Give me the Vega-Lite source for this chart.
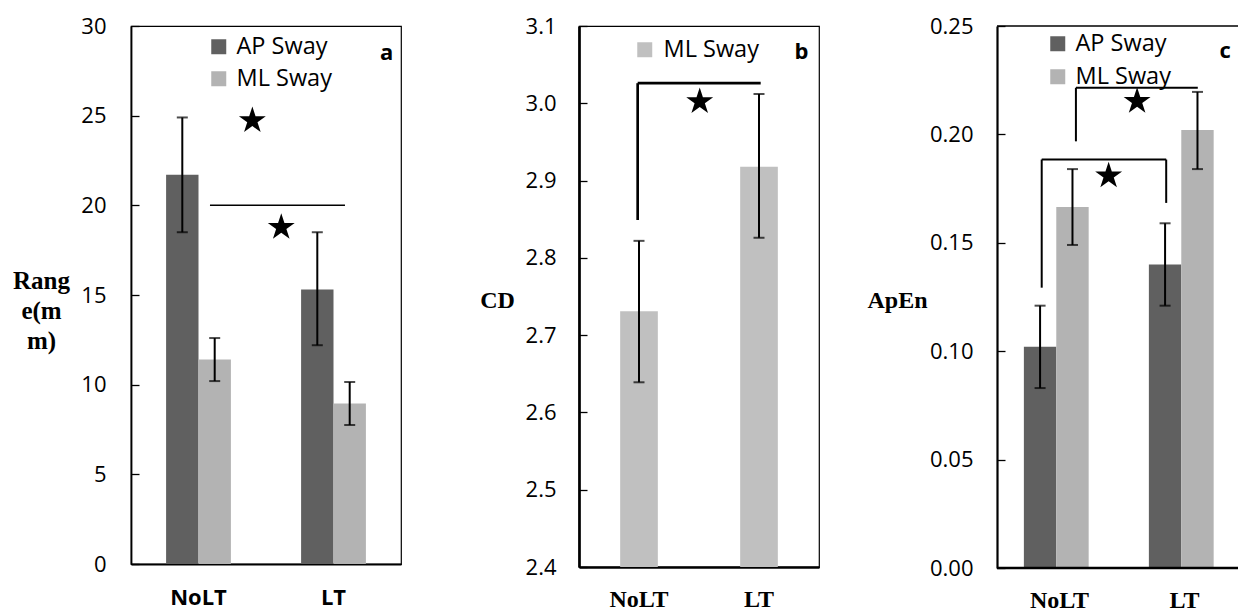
{
  "$schema": "https://vega.github.io/schema/vega-lite/v6.json",
  "padding": {"left": 11, "top": 14, "right": 0, "bottom": 0},
  "autosize": {"type": "pad"},
  "background": "white",
  "spacing": 178,
  "bounds": "flush",
  "config": {
    "view": {"stroke": "black", "strokeWidth": 1.2},
    "axis": {"grid": false, "domainColor": "black", "tickColor": "black", "labelColor": "black", "titleColor": "black"},
    "legend": {"labelColor": "black"},
    "font": "Open Sans"
  },
  "resolve": {"scale": {"color": "independent", "x": "independent", "y": "independent"}, "legend": {"color": "independent"}},
  "hconcat": [
    {
      "width": 270,
      "height": 538,
      "resolve": {"scale": {"x": "independent"}},
      "layer": [
        {
          "data": {"values": [
            {"cond": "NoLT", "series": "AP Sway", "mean": 21.7, "lo": 18.5, "hi": 24.9},
            {"cond": "NoLT", "series": "ML Sway", "mean": 11.4, "lo": 10.2, "hi": 12.6},
            {"cond": "LT", "series": "AP Sway", "mean": 15.3, "lo": 12.2, "hi": 18.5},
            {"cond": "LT", "series": "ML Sway", "mean": 8.95, "lo": 7.75, "hi": 10.15}
          ]},
          "encoding": {
            "x": {"field": "cond", "type": "nominal", "sort": ["NoLT", "LT"],
              "scale": {"paddingInner": 0.52, "paddingOuter": 0.26},
              "axis": {"title": null, "labelAngle": 0, "labelFont": "Open Sans", "labelFontWeight": "bold", "labelFontSize": 22, "ticks": false, "tickSize": 0, "labelPadding": 40, "labelBaseline": "alphabetic", "domainWidth": 1.8}},
            "xOffset": {"field": "series", "type": "nominal", "sort": ["AP Sway", "ML Sway"], "scale": {"paddingInner": 0, "paddingOuter": 0}}
          },
          "layer": [
            {
              "mark": {"type": "bar"},
              "encoding": {
                "y": {"field": "mean", "type": "quantitative", "scale": {"domain": [0, 30], "zero": true, "nice": false},
                  "axis": {"values": [0, 5, 10, 15, 20, 25, 30], "title": ["Rang", "e(m", "m)"], "titleAngle": 0, "titleAlign": "center", "titleBaseline": "middle", "titleX": -90, "titleY": 254, "titleFont": "Liberation Serif", "titleFontWeight": "bold", "titleFontSize": 25, "titleLineHeight": 30, "labelFont": "Open Sans", "labelFontSize": 22, "labelPadding": 33, "tickSize": -8, "tickWidth": 1.3, "domainWidth": 1.8}},
                "color": {"field": "series", "type": "nominal", "scale": {"domain": ["AP Sway", "ML Sway"], "range": ["#606060", "#b3b3b3"]},
                  "legend": {"orient": "none", "legendX": 76, "legendY": 9, "title": null, "direction": "vertical", "symbolType": "square", "symbolSize": 225, "symbolStrokeWidth": 0, "labelFont": "Open Sans", "labelFontSize": 23.5, "labelOffset": 6, "rowPadding": 7, "padding": 0}}
              }
            },
            {
              "mark": {"type": "rule", "color": "black", "strokeWidth": 2},
              "encoding": {"y": {"field": "lo", "type": "quantitative"}, "y2": {"field": "hi"}}
            },
            {
              "mark": {"type": "tick", "color": "black", "thickness": 2, "size": 11, "orient": "horizontal"},
              "encoding": {"y": {"field": "lo", "type": "quantitative"}}
            },
            {
              "mark": {"type": "tick", "color": "black", "thickness": 2, "size": 11, "orient": "horizontal"},
              "encoding": {"y": {"field": "hi", "type": "quantitative"}}
            }
          ]
        },
        {
          "layer": [
            {
              "data": {"values": [{"x1": 0.585, "x2": 1.585, "y1": 20, "y2": 20}]},
              "mark": {"type": "rule", "color": "black", "strokeWidth": 1.5},
              "encoding": {
                "x": {"field": "x1", "type": "quantitative", "scale": {"domain": [0, 2], "nice": false, "zero": false}, "axis": null},
                "x2": {"field": "x2"},
                "y": {"field": "y1", "type": "quantitative"},
                "y2": {"field": "y2"}
              }
            },
            {
              "data": {"values": [{"x": 0.899, "y": 24.8}, {"x": 1.113, "y": 18.85}]},
              "mark": {"type": "point", "shape": "M0,-0.905L0.2245,-0.214L0.951,-0.214L0.363,0.213L0.588,0.904L0,0.477L-0.588,0.904L-0.363,0.213L-0.951,-0.214L-0.2245,-0.214Z", "size": 800, "filled": true, "color": "black", "opacity": 1},
              "encoding": {
                "x": {"field": "x", "type": "quantitative"},
                "y": {"field": "y", "type": "quantitative"}
              }
            },
            {
              "data": {"values": [{"x": 1.893, "y": 28.5, "t": "a"}]},
              "mark": {"type": "text", "font": "Open Sans", "fontWeight": "bold", "fontSize": 22, "align": "center", "baseline": "middle", "color": "black"},
              "encoding": {
                "x": {"field": "x", "type": "quantitative"},
                "y": {"field": "y", "type": "quantitative"},
                "text": {"field": "t"}
              }
            }
          ]
        }
      ]
    },
    {
      "width": 240,
      "height": 541,
      "resolve": {"scale": {"x": "independent"}},
      "layer": [
        {
          "data": {"values": [
            {"cond": "NoLT", "series": "ML Sway", "mean": 2.731, "lo": 2.639, "hi": 2.822},
            {"cond": "LT", "series": "ML Sway", "mean": 2.918, "lo": 2.826, "hi": 3.012}
          ]},
          "encoding": {
            "x": {"field": "cond", "type": "nominal", "sort": ["NoLT", "LT"],
              "scale": {"paddingInner": 0.686, "paddingOuter": 0.343},
              "axis": {"title": null, "labelAngle": 0, "labelFont": "Liberation Serif", "labelFontWeight": "bold", "labelFontSize": 24, "ticks": false, "tickSize": 0, "labelPadding": 39, "labelBaseline": "alphabetic", "domainWidth": 2.7}}
          },
          "layer": [
            {
              "mark": {"type": "bar"},
              "encoding": {
                "y": {"field": "mean", "type": "quantitative", "scale": {"domain": [2.4, 3.1], "zero": false, "nice": false},
                  "axis": {"values": [2.4, 2.5, 2.6, 2.7, 2.8, 2.9, 3.0, 3.1], "format": ".1f", "title": "CD", "titleAngle": 0, "titleAlign": "center", "titleBaseline": "middle", "titleX": -82, "titleY": 274, "titleFont": "Liberation Serif", "titleFontWeight": "bold", "titleFontSize": 24, "labelFont": "Open Sans", "labelFontSize": 22, "labelPadding": 31, "tickSize": -8, "tickWidth": 1.3, "domainWidth": 2.7}},
                "y2": {"datum": 2.4},
                "color": {"field": "series", "type": "nominal", "scale": {"domain": ["ML Sway"], "range": ["#c0c0c0"]},
                  "legend": {"orient": "none", "legendX": 54, "legendY": 12, "title": null, "direction": "vertical", "symbolType": "square", "symbolSize": 225, "symbolStrokeWidth": 0, "labelFont": "Open Sans", "labelFontSize": 23.5, "labelOffset": 7, "padding": 0}}
              }
            },
            {
              "mark": {"type": "rule", "color": "black", "strokeWidth": 2},
              "encoding": {"y": {"field": "lo", "type": "quantitative"}, "y2": {"field": "hi"}}
            },
            {
              "mark": {"type": "tick", "color": "black", "thickness": 2, "size": 11, "orient": "horizontal"},
              "encoding": {"y": {"field": "lo", "type": "quantitative"}}
            },
            {
              "mark": {"type": "tick", "color": "black", "thickness": 2, "size": 11, "orient": "horizontal"},
              "encoding": {"y": {"field": "hi", "type": "quantitative"}}
            }
          ]
        },
        {
          "layer": [
            {
              "data": {"values": [
                {"x1": 0.489, "x2": 0.489, "y1": 2.849, "y2": 3.026},
                {"x1": 0.489, "x2": 1.514, "y1": 3.026, "y2": 3.026}
              ]},
              "mark": {"type": "rule", "color": "black", "strokeWidth": 2.7},
              "encoding": {
                "x": {"field": "x1", "type": "quantitative", "scale": {"domain": [0, 2], "nice": false, "zero": false}, "axis": null},
                "x2": {"field": "x2"},
                "y": {"field": "y1", "type": "quantitative"},
                "y2": {"field": "y2"}
              }
            },
            {
              "data": {"values": [{"x": 1.006, "y": 3.004}]},
              "mark": {"type": "point", "shape": "M0,-0.905L0.2245,-0.214L0.951,-0.214L0.363,0.213L0.588,0.904L0,0.477L-0.588,0.904L-0.363,0.213L-0.951,-0.214L-0.2245,-0.214Z", "size": 800, "filled": true, "color": "black", "opacity": 1},
              "encoding": {
                "x": {"field": "x", "type": "quantitative"},
                "y": {"field": "y", "type": "quantitative"}
              }
            },
            {
              "data": {"values": [{"x": 1.853, "y": 3.067, "t": "b"}]},
              "mark": {"type": "text", "font": "Open Sans", "fontWeight": "bold", "fontSize": 22, "align": "center", "baseline": "middle", "color": "black"},
              "encoding": {
                "x": {"field": "x", "type": "quantitative"},
                "y": {"field": "y", "type": "quantitative"},
                "text": {"field": "t"}
              }
            }
          ]
        }
      ]
    },
    {
      "width": 241,
      "height": 542,
      "view": {"stroke": null},
      "resolve": {"scale": {"x": "independent"}},
      "layer": [
        {
          "data": {"values": [
            {"cond": "NoLT", "series": "AP Sway", "mean": 0.102, "lo": 0.083, "hi": 0.121},
            {"cond": "NoLT", "series": "ML Sway", "mean": 0.1665, "lo": 0.149, "hi": 0.184},
            {"cond": "LT", "series": "AP Sway", "mean": 0.14, "lo": 0.121, "hi": 0.159},
            {"cond": "LT", "series": "ML Sway", "mean": 0.202, "lo": 0.184, "hi": 0.2196}
          ]},
          "encoding": {
            "x": {"field": "cond", "type": "nominal", "sort": ["NoLT", "LT"],
              "scale": {"paddingInner": 0.43, "paddingOuter": 0.215, "range": [0, 250]},
              "axis": {"title": null, "labelAngle": 0, "labelFont": "Liberation Serif", "labelFontWeight": "bold", "labelFontSize": 24, "ticks": false, "tickSize": 0, "domain": false, "labelPadding": 39, "labelBaseline": "alphabetic"}},
            "xOffset": {"field": "series", "type": "nominal", "sort": ["AP Sway", "ML Sway"], "scale": {"paddingInner": 0, "paddingOuter": 0}}
          },
          "layer": [
            {
              "mark": {"type": "bar"},
              "encoding": {
                "y": {"field": "mean", "type": "quantitative", "scale": {"domain": [0, 0.25], "nice": false},
                  "axis": {"values": [0, 0.05, 0.1, 0.15, 0.2, 0.25], "format": ".2f", "title": "ApEn", "titleAngle": 0, "titleAlign": "center", "titleBaseline": "middle", "titleX": -100, "titleY": 274, "titleFont": "Liberation Serif", "titleFontWeight": "bold", "titleFontSize": 24, "labelFont": "Open Sans", "labelFontSize": 22, "labelPadding": 32, "tickSize": -8, "tickWidth": 1.3, "domainWidth": 2.2}},
                "color": {"field": "series", "type": "nominal", "scale": {"domain": ["AP Sway", "ML Sway"], "range": ["#606060", "#b3b3b3"]},
                  "legend": {"orient": "none", "legendX": 49, "legendY": 6, "title": null, "direction": "vertical", "symbolType": "square", "symbolSize": 225, "symbolStrokeWidth": 0, "labelFont": "Open Sans", "labelFontSize": 23.5, "labelOffset": 6, "rowPadding": 8, "padding": 0}}
              }
            },
            {
              "mark": {"type": "rule", "color": "black", "strokeWidth": 2},
              "encoding": {"y": {"field": "lo", "type": "quantitative"}, "y2": {"field": "hi"}}
            },
            {
              "mark": {"type": "tick", "color": "black", "thickness": 2, "size": 11, "orient": "horizontal"},
              "encoding": {"y": {"field": "lo", "type": "quantitative"}}
            },
            {
              "mark": {"type": "tick", "color": "black", "thickness": 2, "size": 11, "orient": "horizontal"},
              "encoding": {"y": {"field": "hi", "type": "quantitative"}}
            }
          ]
        },
        {
          "layer": [
            {
              "data": {"values": [
                {"x1": 0.358, "x2": 0.358, "y1": 0.1293, "y2": 0.1884},
                {"x1": 0.358, "x2": 1.355, "y1": 0.1884, "y2": 0.1884},
                {"x1": 1.355, "x2": 1.355, "y1": 0.1884, "y2": 0.1684},
                {"x1": 0.632, "x2": 0.632, "y1": 0.1968, "y2": 0.2215},
                {"x1": 0.632, "x2": 1.608, "y1": 0.2215, "y2": 0.2215}
              ]},
              "mark": {"type": "rule", "color": "black", "strokeWidth": 2},
              "encoding": {
                "x": {"field": "x1", "type": "quantitative", "scale": {"domain": [0, 1.93], "nice": false, "zero": false}, "axis": null},
                "x2": {"field": "x2"},
                "y": {"field": "y1", "type": "quantitative"},
                "y2": {"field": "y2"}
              }
            },
            {
              "data": {"values": [{"x1": 0, "x2": 1.93, "y1": 0.25, "y2": 0.25}]},
              "mark": {"type": "rule", "color": "black", "strokeWidth": 1.5},
              "encoding": {
                "x": {"field": "x1", "type": "quantitative"},
                "x2": {"field": "x2"},
                "y": {"field": "y1", "type": "quantitative"},
                "y2": {"field": "y2"}
              }
            },
            {
              "data": {"values": [{"x1": 0, "x2": 1.93, "y1": 0, "y2": 0}]},
              "mark": {"type": "rule", "color": "black", "strokeWidth": 2.4},
              "encoding": {
                "x": {"field": "x1", "type": "quantitative"},
                "x2": {"field": "x2"},
                "y": {"field": "y1", "type": "quantitative"},
                "y2": {"field": "y2"}
              }
            },
            {
              "data": {"values": [{"x": 0.894, "y": 0.1815}, {"x": 1.122, "y": 0.2159}]},
              "mark": {"type": "point", "shape": "M0,-0.905L0.2245,-0.214L0.951,-0.214L0.363,0.213L0.588,0.904L0,0.477L-0.588,0.904L-0.363,0.213L-0.951,-0.214L-0.2245,-0.214Z", "size": 800, "filled": true, "color": "black", "opacity": 1},
              "encoding": {
                "x": {"field": "x", "type": "quantitative"},
                "y": {"field": "y", "type": "quantitative"}
              }
            },
            {
              "data": {"values": [{"x": 1.827, "y": 0.2383, "t": "c"}]},
              "mark": {"type": "text", "font": "Open Sans", "fontWeight": "bold", "fontSize": 22, "align": "center", "baseline": "middle", "color": "black"},
              "encoding": {
                "x": {"field": "x", "type": "quantitative"},
                "y": {"field": "y", "type": "quantitative"},
                "text": {"field": "t"}
              }
            }
          ]
        }
      ]
    }
  ]
}
